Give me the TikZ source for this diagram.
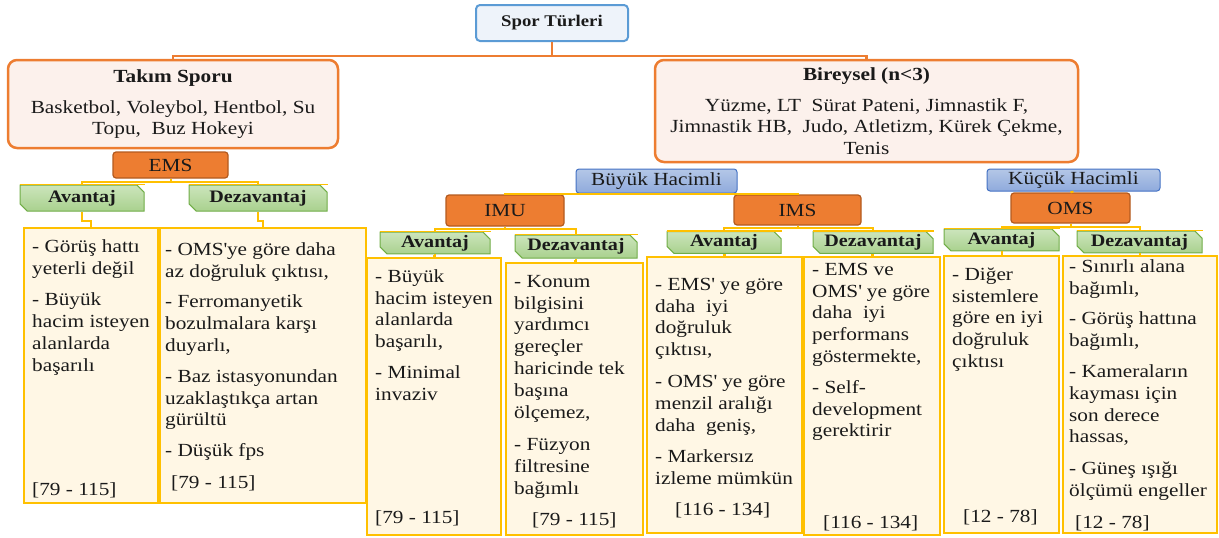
\documentclass[tikz,border=0pt]{standalone}
\usepackage{fontspec}
\setmainfont{Liberation Serif}[FakeStretch=1.15]
\usetikzlibrary{shapes.misc,calc}
\definecolor{orng}{HTML}{ED7D31}
\definecolor{orngdk}{HTML}{B35A1F}
\definecolor{peach}{HTML}{FCF1EC}
\definecolor{ylw}{HTML}{FFC000}
\definecolor{cream}{HTML}{FFF7E5}
\definecolor{grn}{HTML}{A9D18E}
\definecolor{grnlt}{HTML}{CCE5BC}
\definecolor{grndk}{HTML}{70AD47}
\definecolor{blu}{HTML}{8FAADC}
\definecolor{blult}{HTML}{B4C7E7}
\definecolor{bludk}{HTML}{4472C4}
\definecolor{skyb}{HTML}{5B9BD5}
\definecolor{skylt}{HTML}{EEF3FA}
\definecolor{txt}{HTML}{1A1A1A}
\tikzset{
  base/.style={inner sep=0pt, text=txt},
  sbox/.style={base, draw=skyb, line width=2pt, fill=skylt, rounded corners=4pt, font=\bfseries\fontsize{16.3}{19}\selectfont},
  bigbox/.style={base, draw=orng, line width=2.5pt, fill=peach, rounded corners=9pt, align=center, font=\fontsize{18.5}{21.5}\selectfont},
  obox/.style={base, fill=orng, draw=orngdk, line width=1.2pt, rounded corners=3pt, font=\fontsize{18.5}{22}\selectfont},
  bbox/.style={base, top color=blult, bottom color=blu, draw=bludk, line width=1pt, rounded corners=3pt, font=\fontsize{18.5}{22}\selectfont},
  gbox/.style={base, chamfered rectangle, chamfered rectangle xsep=4pt, chamfered rectangle corners={north east,south west}, top color=grnlt, bottom color=grn, draw=grndk, line width=1pt, font=\bfseries\fontsize{17.5}{20}\selectfont},
  cbox/.style={draw=ylw, line width=2.2pt, fill=cream, inner sep=0pt},
  ctext/.style={base, anchor=north west, align=left, font=\fontsize{18.5}{21.8}\selectfont},
  cite/.style={base, anchor=base west, font=\fontsize{18.5}{21.8}\selectfont},
  conn/.style={draw=ylw, line width=2pt},
  oline/.style={draw=orng, line width=2.5pt},
}
\begin{document}
\begin{tikzpicture}[x=1pt,y=-1pt]
\useasboundingbox (0,0) rectangle (1219,538);

% top level
\node[sbox, minimum width=152, minimum height=36] (spor) at (552,23) {Spor Türleri};
\node[bigbox, minimum width=330, minimum height=88] (takim) at (173,104)
  {{\bfseries Takım Sporu}\\[9.5pt]Basketbol, Voleybol, Hentbol, Su\\Topu,\ \ Buz Hokeyi};
\node[bigbox, minimum width=423, minimum height=102] (bir) at (866.5,111)
  {{\bfseries Bireysel (n<3)}\\[9.5pt]Yüzme, LT\ \ Sürat Pateni, Jimnastik F,\\Jimnastik HB,\ \ Judo, Atletizm, Kürek Çekme,\\Tenis};

% second level
\node[obox, minimum width=115, minimum height=26] (ems) at (170.5,165) {EMS};
\node[bbox, minimum width=161, minimum height=24] (buyuk) at (656.5,181) {Büyük Hacimli};
\node[bbox, minimum width=173, minimum height=22] (kucuk) at (1073.5,180) {Küçük Hacimli};
\node[obox, minimum width=118, minimum height=31] (imu) at (505,210.5) {IMU};
\node[obox, minimum width=127, minimum height=30] (ims) at (797.5,210) {IMS};
\node[obox, minimum width=119, minimum height=30] (oms) at (1070.5,208) {OMS};

% green labels
\node[gbox, minimum width=124, minimum height=26] (emsA) at (82,198) {Avantaj};
\node[gbox, minimum width=138, minimum height=26] (emsD) at (258,198) {Dezavantaj};
\node[gbox, minimum width=110, minimum height=20] (imuA) at (435,243) {Avantaj};
\node[gbox, minimum width=122, minimum height=23] (imuD) at (576,246.5) {Dezavantaj};
\node[gbox, minimum width=114, minimum height=19] (imsA) at (724,242.5) {Avantaj};
\node[gbox, minimum width=120, minimum height=19] (imsD) at (873,242.5) {Dezavantaj};
\node[gbox, minimum width=115, minimum height=20] (omsA) at (1001.5,240) {Avantaj};
\node[gbox, minimum width=125, minimum height=20] (omsD) at (1139.5,242) {Dezavantaj};
\foreach \n in {emsA,emsD,imuA,imuD,imsA,imsD,omsA,omsD}
  \draw[ylw, line width=1.5pt] ([yshift=-0.2pt]\n.north west) -- ([yshift=-0.2pt]\n.north west -| \n.east);

% content boxes
\node[cbox, minimum width=134, minimum height=275] (c1) at (91,365.5) {};
\node[cbox, minimum width=206, minimum height=275] (c2) at (263,365.5) {};
\node[cbox, minimum width=134, minimum height=277] (c3) at (434,396.5) {};
\node[cbox, minimum width=137, minimum height=272] (c4) at (574.5,399) {};
\node[cbox, minimum width=155, minimum height=276] (c5) at (724.5,395) {};
\node[cbox, minimum width=136, minimum height=278] (c6) at (872,396) {};
\node[cbox, minimum width=115, minimum height=277] (c7) at (1001.5,394.5) {};
\node[cbox, minimum width=154, minimum height=277] (c8) at (1140,394.5) {};

% connectors
\draw[oline] (spor.south) -- ++(0,14) coordinate (sj);
\draw[oline] (takim.north) |- (sj) -| (bir.north);
\draw[conn] (ems.south) -- ++(0,3) coordinate (ej);
\draw[conn] (emsA.north) |- (ej) -| (emsD.north);
\draw[conn] (buyuk.south) -- ++(0,0.5) coordinate (bj);
\draw[conn] (imu.north) |- (bj) -| (ims.north);
\draw[conn] (kucuk.south) -- (oms.north);
\draw[conn] (imu.south) -- ++(0,2) coordinate (ij);
\draw[conn] (imuA.north) |- (ij) -| (imuD.north);
\draw[conn] (ims.south) -- ++(0,2) coordinate (mj);
\draw[conn] (imsA.north) |- (mj) -| (imsD.north);
\draw[conn] (oms.south) -- ++(0,3) coordinate (oj);
\draw[conn] (omsA.north) |- (oj) -| (omsD.north);
\foreach \a/\c in {emsA/c1,emsD/c2,imuA/c3,imuD/c4,imsA/c5,imsD/c6,omsA/c7,omsD/c8}
  \draw[conn] (\a.south) |- ($(\a.south)!0.6!(\c.north)$) -| (\c.north);

% texts
\node[ctext] (t1) at (32,236.8) {\strut- Görüş hattı\\yeterli değil\\[10pt]- Büyük\\hacim isteyen\\alanlarda\\başarılı};
\node[ctext] (t2) at (165,239.8) {\strut- OMS\textquotesingle ye göre daha\\az doğruluk çıktısı,\\[9pt]- Ferromanyetik\\bozulmalara karşı\\duyarlı,\\[9pt]- Baz istasyonundan\\uzaklaştıkça artan\\gürültü\\[9pt]- Düşük fps};
\node[ctext] (t3) at (375,266.8) {\strut- Büyük\\hacim isteyen\\alanlarda\\başarılı,\\[9pt]- Minimal\\invaziv};
\node[ctext] (t4) at (514,271.8) {\strut- Konum\\bilgisini\\yardımcı\\gereçler\\haricinde tek\\başına\\ölçemez,\\[11pt]- Füzyon\\filtresine\\bağımlı};
\node[ctext] (t5) at (655,274.8) {\strut- EMS\textquotesingle\ ye göre\\daha\ \ iyi\\doğruluk\\çıktısı,\\[10pt]- OMS\textquotesingle\ ye göre\\menzil aralığı\\daha\ \ geniş,\\[10pt]- Markersız\\izleme mümkün};
\node[ctext] (t6) at (812,259.8) {\strut- EMS ve\\OMS\textquotesingle\ ye göre\\daha\ \ iyi\\performans\\göstermekte,\\[9pt]- Self-\\development\\gerektirir};
\node[ctext] (t7) at (952,264.8) {\strut- Diğer\\sistemlere\\göre en iyi\\doğruluk\\çıktısı};
\node[ctext] (t8) at (1069,256.8) {\strut- Sınırlı alana\\bağımlı,\\[9pt]- Görüş hattına\\bağımlı,\\[9pt]- Kameraların\\kayması için\\son derece\\hassas,\\[10pt]- Güneş ışığı\\ölçümü engeller};

% citations
\node[cite] (r1) at (32,495) {[79 - 115]};
\node[cite] (r2) at (171,488) {[79 - 115]};
\node[cite] (r3) at (375,523) {[79 - 115]};
\node[cite] (r4) at (532,525) {[79 - 115]};
\node[cite] (r5) at (675,515) {[116 - 134]};
\node[cite] (r6) at (823,528) {[116 - 134]};
\node[cite] (r7) at (963,522) {[12 - 78]};
\node[cite] (r8) at (1075,528) {[12 - 78]};
\end{tikzpicture}
\end{document}
